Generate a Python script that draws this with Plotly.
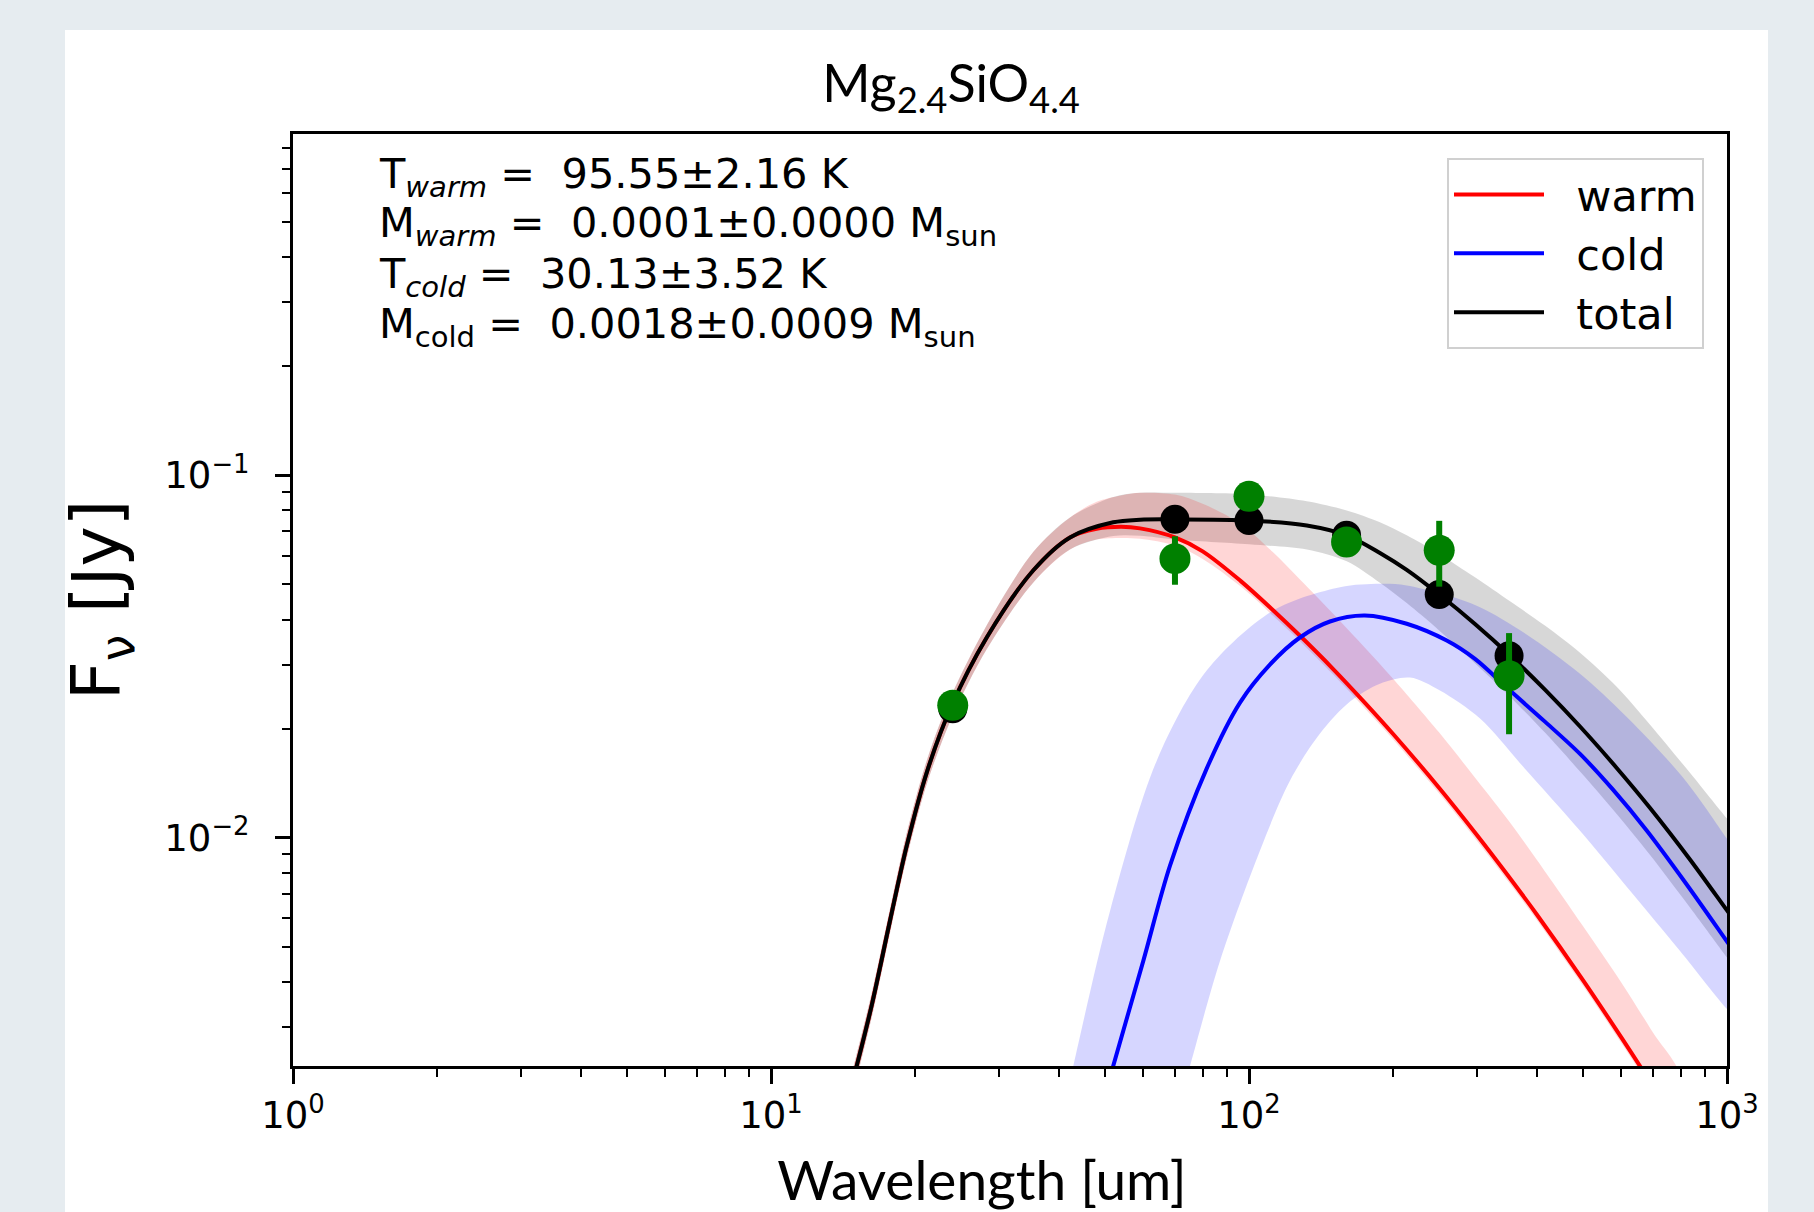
import plotly.graph_objects as go

# ---------------- data ----------------
# warm component (red) and its uncertainty band
warm_wl = [14.5, 15.11, 16.27, 17.74, 19.23, 21.23, 23.88, 28.27, 35.39, 42.22, 48, 54, 59.16, 70,
           80, 96, 112, 128, 150, 175, 200, 250, 300, 350, 400, 500, 600, 700, 800]
warm_f = [0.00192, 0.002346, 0.00348, 0.0059, 0.0095, 0.0153, 0.02316, 0.0357, 0.0547, 0.0674,
          0.0712, 0.0721, 0.0714, 0.0674, 0.0617, 0.05115, 0.04258, 0.03602, 0.02921, 0.02353,
          0.01936, 0.01372, 0.01016, 0.00779, 0.00614, 0.00404, 0.00282, 0.00206, 0.00155]
warm_hi = [0.00205, 0.00253, 0.00376, 0.00637, 0.0103, 0.0165, 0.0248, 0.0386, 0.0615, 0.0765,
           0.0845, 0.0880, 0.0895, 0.0885, 0.0835, 0.0735, 0.0615, 0.0515, 0.0415, 0.0334,
           0.0275, 0.0195, 0.0144, 0.0111, 0.0087, 0.0057, 0.0040, 0.0029, 0.0022]
warm_lo = [0.00176, 0.00217, 0.00322, 0.00546, 0.0088, 0.0142, 0.0214, 0.0331, 0.0506, 0.0624,
           0.0665, 0.0672, 0.0668, 0.064, 0.0588, 0.0494, 0.0411, 0.0348, 0.0282, 0.0227,
           0.0187, 0.01324, 0.0098, 0.00752, 0.00593, 0.0039, 0.00272, 0.00199, 0.0015]

# cold component (blue) and its uncertainty band
cold_wl = [48.8, 52.0, 60.1, 68.35, 81.55, 95.76, 110.6, 127.8, 147.7, 174.8, 213.8, 259.2,
           297.0, 351.6, 416.0, 492.6, 577.4, 679.2, 823.6, 1000, 1050]
cold_f = [0.00173, 0.002346, 0.004573, 0.008371, 0.01551, 0.0236, 0.03004, 0.03569, 0.03951,
          0.04105, 0.03894, 0.03500, 0.03114, 0.02547, 0.02091, 0.01703, 0.01357, 0.01047,
          0.00743, 0.00517, 0.00472]
cold_hi_wl = [40.23, 42.90, 51.20, 64.12, 81.55, 112.4, 155.0, 187.9, 213.8, 304.3, 492.6,
              797.6, 1000, 1050]
cold_hi_f = [0.00159, 0.002346, 0.00628, 0.01632, 0.02892, 0.04238, 0.04913, 0.05021, 0.04967,
             0.04327, 0.02833, 0.015, 0.00994, 0.0091]
cold_lo_wl = [71.72, 75.27, 86.99, 105.4, 121.8, 140.8, 162.7, 187.9, 217.2, 250.9, 304.3,
              374.3, 492.6, 626.9, 797.6, 1000, 1050]
cold_lo_f = [0.001877, 0.002346, 0.004573, 0.009206, 0.01437, 0.01938, 0.02375, 0.02662,
             0.02767, 0.02547, 0.02132, 0.01571, 0.01045, 0.00714, 0.00487, 0.00337, 0.00318]

# total model (black) and its uncertainty band
total_wl = [14.5, 15.11, 16.27, 17.74, 19.23, 21.23, 23.88, 28.27, 35.39, 42.22, 52, 59.16, 70,
            100, 132.1, 160.1, 187.9, 213.8, 248.9, 297, 351.6, 416, 492.6, 587.8, 690.3, 836.6,
            1000, 1050]
total_f = [0.00192, 0.002346, 0.00348, 0.0059, 0.0095, 0.0153, 0.02316, 0.0357, 0.0547, 0.0674,
           0.0742, 0.07543, 0.07558, 0.0751, 0.07275, 0.0683, 0.06106, 0.05482, 0.04711, 0.0389,
           0.03183, 0.02562, 0.02027, 0.01558, 0.01208, 0.00871, 0.0063, 0.00577]
total_hi = [0.00205, 0.00253, 0.00376, 0.00637, 0.0103, 0.0165, 0.0248, 0.0386, 0.0615, 0.0765,
            0.0872, 0.0895, 0.0895, 0.0886, 0.0848, 0.0800, 0.0742, 0.0683, 0.0609, 0.0523,
            0.0449, 0.0385, 0.0324, 0.0261, 0.0205, 0.0151, 0.01129, 0.0105]
total_lo = [0.00176, 0.00217, 0.00322, 0.00546, 0.0088, 0.0142, 0.0214, 0.0331, 0.0506, 0.0624,
            0.0680, 0.0681, 0.0665, 0.0645, 0.0624, 0.0579, 0.0505, 0.0444, 0.0375, 0.0303,
            0.0245, 0.0195, 0.01523, 0.01163, 0.00896, 0.00642, 0.00467, 0.00429]

# photometry and model photometry
obs_wl = [24, 70, 100, 160, 250, 350]
obs_f = [0.0232, 0.0589, 0.0875, 0.0655, 0.0621, 0.0280]
obs_err = [0.0012, 0.009, 0.003, 0.002, 0.0128, 0.0087]
model_f = [0.0227, 0.0756, 0.0751, 0.0683, 0.0469, 0.0318]

# labels
title_text = "Mg<sub>2.4</sub>SiO<sub>4.4</sub>"
x_label = "Wavelength [um]" + "&nbsp;" * 4
y_label = "F<sub>ν</sub> [Jy]"
series_names = ["warm", "cold", "total"]
fit_lines = [
    "T<sub><i>warm</i></sub> =  95.55±2.16 K",
    "M<sub><i>warm</i></sub> =  0.0001±0.0000 M<sub>sun</sub>",
    "T<sub><i>cold</i></sub> =  30.13±3.52 K",
    "M<sub>cold</sub> =  0.0018±0.0009 M<sub>sun</sub>",
]
x_tickvals = [1, 10, 100, 1000]
x_ticktext = ["10<sup>0</sup>", "10<sup>1</sup>", "10<sup>2</sup>", "10<sup>3</sup>"]
y_tickvals = [0.01, 0.1]
y_ticktext = ["10<sup>−2</sup>", "10<sup>−1</sup>"]

# ---------------- figure ----------------
W, H = 1814, 1212
L, R, T, B = 293, 87, 134, 146
pw, ph = W - L - R, H - T - B

fig = go.Figure()


def band(wl_hi, f_hi, wl_lo, f_lo, color):
    fig.add_trace(go.Scatter(
        x=list(wl_hi) + list(reversed(wl_lo)),
        y=list(f_hi) + list(reversed(f_lo)),
        mode="lines", fill="toself", fillcolor=color,
        line=dict(width=0, shape="spline", smoothing=0.9),
        hoverinfo="skip", showlegend=False))


band(total_wl, total_hi, total_wl, total_lo, "rgba(0,0,0,0.155)")
band(warm_wl, warm_hi, warm_wl, warm_lo, "rgba(255,0,0,0.16)")
band(cold_hi_wl, cold_hi_f, cold_lo_wl, cold_lo_f, "rgba(0,0,255,0.16)")

LW = 4
pad = "&nbsp;&nbsp;"
fig.add_trace(go.Scatter(x=warm_wl, y=warm_f, mode="lines", name=pad + series_names[0],
                         line=dict(color="#ff0000", width=LW, shape="spline", smoothing=0.9)))
fig.add_trace(go.Scatter(x=cold_wl, y=cold_f, mode="lines", name=pad + series_names[1],
                         line=dict(color="#0000ff", width=LW, shape="spline", smoothing=0.9)))
fig.add_trace(go.Scatter(x=total_wl, y=total_f, mode="lines", name=pad + series_names[2],
                         line=dict(color="#000000", width=LW, shape="spline", smoothing=0.9)))

fig.add_trace(go.Scatter(x=obs_wl, y=model_f, mode="markers", showlegend=False,
                         marker=dict(color="black", size=29, line=dict(width=0))))
fig.add_trace(go.Scatter(x=obs_wl, y=obs_f, mode="markers", showlegend=False,
                         marker=dict(color="#008000", size=31, line=dict(width=0)),
                         error_y=dict(type="data", array=obs_err, visible=True,
                                      color="#008000", thickness=6, width=0)))

# white panel behind the figure
fig.add_shape(type="rect", xref="paper", yref="paper",
              x0=(65 - L) / pw, x1=(1768 - L) / pw,
              y0=-0.3, y1=(H - B - 30) / ph,
              fillcolor="white", line=dict(width=0), layer="below")

# fit-result text
for i, txt in enumerate(fit_lines):
    yc = [176.5, 225.5, 276.5, 326.5][i]
    fig.add_annotation(text=txt, xref="paper", yref="paper",
                       x=(377 - L) / pw, y=(H - B - yc) / ph,
                       xanchor="left", yanchor="middle", showarrow=False,
                       font=dict(family="DejaVu Sans", size=41.5, color="black"))

axis_common = dict(
    type="log", showgrid=False, zeroline=False,
    showline=True, linecolor="black", linewidth=3, mirror=True,
    ticks="outside", ticklen=15, tickwidth=2.5, tickcolor="black",
    tickfont=dict(family="DejaVu Sans", size=37, color="black"),
)

fig.update_xaxes(
    **axis_common, range=[0, 3], tickmode="array",
    tickvals=x_tickvals, ticktext=x_ticktext,
    minor=dict(tickmode="array",
               tickvals=[m * 10 ** e for e in range(0, 3) for m in range(2, 10)],
               ticks="outside", ticklen=8, tickwidth=2, tickcolor="black"),
    title=dict(text=x_label, font=dict(family="Lato", size=55, color="black"), standoff=26),
)
fig.update_yaxes(
    **axis_common, range=[-2.630, -0.058], tickmode="array",
    tickvals=y_tickvals, ticktext=y_ticktext, ticklabelstandoff=18,
    minor=dict(tickmode="array",
               tickvals=[m * 10 ** e for e in (-3, -2, -1) for m in range(2, 10)],
               ticks="outside", ticklen=8, tickwidth=2, tickcolor="black"),
    title=dict(text=y_label, font=dict(family="DejaVu Sans", size=68, color="black"), standoff=22),
)

fig.update_layout(
    width=W, height=H, autosize=False,
    margin=dict(l=L, r=R, t=T, b=B, autoexpand=False),
    paper_bgcolor="#e6ecf0", plot_bgcolor="white",
    title=dict(text=title_text, x=951 / W, xref="container", xanchor="center",
               y=1 - 83.5 / H, yref="container", yanchor="middle",
               font=dict(family="Lato", size=52, color="black")),
    legend=dict(x=(1704 - L) / pw, xanchor="right", y=(H - B - 158) / ph, yanchor="top",
                bgcolor="white", bordercolor="#d0d0d0", borderwidth=2,
                font=dict(family="DejaVu Sans", size=43, color="black"),
                itemwidth=90),
    font=dict(family="DejaVu Sans", color="black"),
)

fig.write_html("out.html", config={"displayModeBar": False},
               post_script="document.body.style.margin='0px';document.body.style.overflow='hidden';")
